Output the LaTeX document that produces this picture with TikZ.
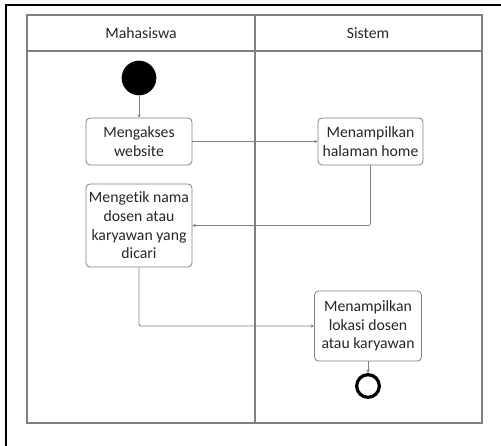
\documentclass[tikz,border=0pt]{standalone}
\usepackage{fontspec}
\setmainfont[Ligatures=NoCommon]{Carlito}
\usetikzlibrary{arrows.meta}

\tikzset{
  lane/.style={draw=black!50, line width=0.8pt},
  act/.style={draw=black!50, line width=0.6pt, rounded corners=3pt, align=center,
    inner sep=2pt, text=black!85, font=\fontsize{11.8}{14}\selectfont},
  flow/.style={draw=black!50, line width=0.6pt, rounded corners=1.5pt,
    -{Stealth[length=2.5pt,width=2.5pt]}},
}

\begin{document}
\begin{tikzpicture}[x=0.75pt,y=-0.75pt]
  \useasboundingbox (0,0) rectangle (501,446);
  \draw[line width=1.3pt] (6,446)--(6,5)--(501,5);

  % swimlanes
  \draw[lane] (27,15) rectangle (482,423);
  \draw[lane] (27,51)--(482,51);
  \draw[lane] (255,15)--(255,423);
  \node[text=black!85, font=\fontsize{11.8}{14}\selectfont] (lane1) at (141,33) {Mahasiswa};
  \node[text=black!85, font=\fontsize{11.8}{14}\selectfont] (lane2) at (368,33) {Sistem};

  \node[circle, fill=black, minimum size=26pt, inner sep=0pt] (start) at (139,78) {};
  \node[act, minimum width=79.5pt, minimum height=35.25pt] (akses) at (139,141.5) {Mengakses\\website};
  \node[act, minimum width=79.5pt, minimum height=62.25pt] (ketik) at (139,225.5) {Mengetik nama\\dosen atau\\karyawan yang\\dicari};
  \node[act, minimum width=78.75pt, minimum height=35.25pt] (home) at (370.5,141.5) {Menampilkan\\halaman home};
  \node[act, minimum width=80.25pt, minimum height=52.5pt] (lokasi) at (368,326) {Menampilkan\\lokasi dosen\\atau karyawan};
  \node[circle, draw=black, line width=2.4pt, minimum size=17pt, inner sep=0pt] (end) at (368,386) {};

  \draw[flow] (start) -- (akses);
  \draw[flow] (akses) -- (home);
  \draw[flow] (home.south) |- (ketik.east);
  \draw[flow] (ketik.south) |- (lokasi.west);
  \draw[flow] (lokasi) -- (end);
\end{tikzpicture}
\end{document}
